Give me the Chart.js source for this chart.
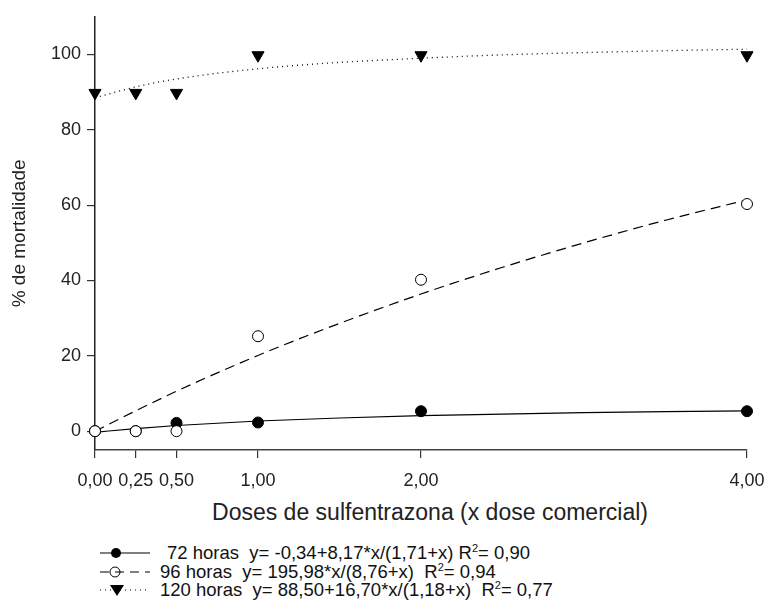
<!DOCTYPE html>
<html>
<head>
<meta charset="utf-8">
<script src="https://cdn.jsdelivr.net/npm/chart.js@4.4.0/dist/chart.umd.min.js"></script>
<style>
  body { margin: 0; background: #fff; }
  #wrap { position: relative; width: 766px; height: 603px; }
  #chart { position: absolute; left: 0; top: 0; }
  #xtitle { position: absolute; left: 430px; top: 499px; transform: translateX(-50%); font-family: "Liberation Sans", Arial, sans-serif; font-size: 23px; color: #222; white-space: nowrap; line-height: 26px; }
  .leg { position: absolute; left: 100px; font-family: "Liberation Sans", Arial, sans-serif; font-size: 18.5px; color: #111; white-space: pre; line-height: 18px; height: 18px; }
  .leg svg { vertical-align: top; margin-right: 8px; }
  .leg sup { font-size: 11px; vertical-align: 7px; line-height: 0; }
</style>
</head>
<body>
<div id="wrap">
  <canvas id="chart" width="766" height="495"></canvas>
  <div id="xtitle">Doses de sulfentrazona (x dose comercial)</div>
  <div class="leg" style="top:544px"><svg width="52" height="18"><line x1="0" y1="9" x2="50" y2="9" stroke="#000" stroke-width="1.2"/><circle cx="16" cy="9" r="5" fill="#000"/></svg><span style="margin-left:7px">72 horas  y= -0,34+8,17*x/(1,71+x) R<sup>2</sup>= 0,90</span></div>
  <div class="leg" style="top:562.5px"><svg width="52" height="18"><circle cx="15" cy="9" r="5" fill="#fff" stroke="#000" stroke-width="1"/><line x1="0" y1="9" x2="50" y2="9" stroke="#000" stroke-width="1.2" stroke-dasharray="9,6"/></svg>96 horas  y= 195,98*x/(8,76+x)  R<sup>2</sup>= 0,94</div>
  <div class="leg" style="top:581px"><svg width="52" height="18"><line x1="0" y1="9" x2="46" y2="9" stroke="#000" stroke-width="1.2" stroke-dasharray="1,4"/><polygon points="10,4 24,4 17,15" fill="#000"/></svg>120 horas  y= 88,50+16,70*x/(1,18+x)  R<sup>2</sup>= 0,77</div>
</div>
<script>
// observed doses and mortality
var doses = [0, 0.25, 0.5, 1, 2, 4];
var mort72 = [0, 0, 2.2, 2.3, 5.3, 5.3];
var mort96 = [0, 0, 0, 25.2, 40.2, 60.3];
var mort120 = [89.8, 89.8, 89.8, 99.8, 99.8, 99.8];

// fitted curves
var curveX = [0, 0.25, 0.5, 1, 1.5, 2, 2.5, 3, 3.5, 4];
var curve72 = [-0.3, 0.7, 1.5, 2.7, 3.5, 4.1, 4.5, 4.9, 5.2, 5.4];
var curve96 = [0, 5.4, 10.6, 20.1, 28.6, 36.4, 43.5, 50.0, 56.0, 61.4];
var curve120 = [88.5, 91.4, 93.5, 96.2, 97.9, 99.0, 99.9, 100.5, 101.0, 101.4];

var xTicks = [0, 0.25, 0.5, 1, 2, 4];
var yTicks = [0, 20, 40, 60, 80, 100];

function pts(xs, ys) {
    return xs.map(function(x, i) { return {x: x, y: ys[i]} });
}

var font = "'Liberation Sans', Arial, sans-serif";

new Chart(document.getElementById('chart').getContext('2d'), {
    type: 'line',
    data: {
        datasets: [{
            data: pts(doses, mort96),
            showLine: false,
            pointStyle: 'circle',
            pointRadius: 5.5,
            pointBackgroundColor: '#fff',
            pointBorderColor: '#000',
            pointBorderWidth: 1,
            clip: false,
            order: 0
        }, {
            data: pts(doses, mort72),
            showLine: false,
            pointStyle: 'circle',
            pointRadius: 5.5,
            pointBackgroundColor: '#000',
            pointBorderColor: '#000',
            clip: false,
            order: 1
        }, {
            data: pts(doses, mort120),
            showLine: false,
            pointStyle: 'triangle',
            rotation: 180,
            pointRadius: 7,
            pointBackgroundColor: '#000',
            pointBorderColor: '#000',
            clip: false,
            order: 1
        }, {
            data: pts(curveX, curve72),
            borderColor: '#000',
            borderWidth: 1.2,
            pointRadius: 0,
            cubicInterpolationMode: 'monotone',
            clip: false,
            order: 2
        }, {
            data: pts(curveX, curve96),
            borderColor: '#000',
            borderWidth: 1.2,
            borderDash: [10, 6],
            pointRadius: 0,
            cubicInterpolationMode: 'monotone',
            clip: false,
            order: 2
        }, {
            data: pts(curveX, curve120),
            borderColor: '#000',
            borderWidth: 1.3,
            borderDash: [1, 4],
            pointRadius: 0,
            cubicInterpolationMode: 'monotone',
            clip: false,
            order: 2
        }]
    },
    options: {
        responsive: false,
        animation: false,
        layout: { padding: { top: 15, right: 19, left: 0, bottom: 0 } },
        plugins: { legend: { display: false }, tooltip: { enabled: false } },
        scales: {
            x: {
                type: 'linear',
                min: 0,
                max: 4,
                afterBuildTicks: function(scale) {
                    scale.ticks = xTicks.map(function(v) { return {value: v} });
                },
                afterFit: function(scale) {
                    scale.height = 45;
                    scale.paddingLeft = 0;
                    scale.paddingRight = 0;
                },
                ticks: {
                    color: '#222',
                    font: { family: font, size: 18 },
                    padding: 12,
                    maxRotation: 0,
                    callback: function(v) { return v.toFixed(2).replace('.', ','); }
                },
                grid: { display: true, drawOnChartArea: false, tickLength: 8, color: '#333', lineWidth: 1.2 },
                border: { display: true, color: '#444', width: 1.5 }
            },
            y: {
                min: -5,
                max: 110,
                afterBuildTicks: function(scale) {
                    scale.ticks = yTicks.map(function(v) { return {value: v} });
                },
                afterFit: function(scale) { scale.width = 95; },
                ticks: {
                    color: '#222',
                    font: { family: font, size: 18 },
                    padding: 6
                },
                grid: { display: true, drawOnChartArea: false, tickLength: 8, color: '#333', lineWidth: 1.2 },
                border: { display: true, color: '#222', width: 1.5 },
                title: {
                    display: true,
                    text: '% de mortalidade',
                    color: '#222',
                    font: { family: font, size: 19 },
                    padding: { top: 8, bottom: 8 }
                }
            }
        }
    }
});
</script>
</body>
</html>
